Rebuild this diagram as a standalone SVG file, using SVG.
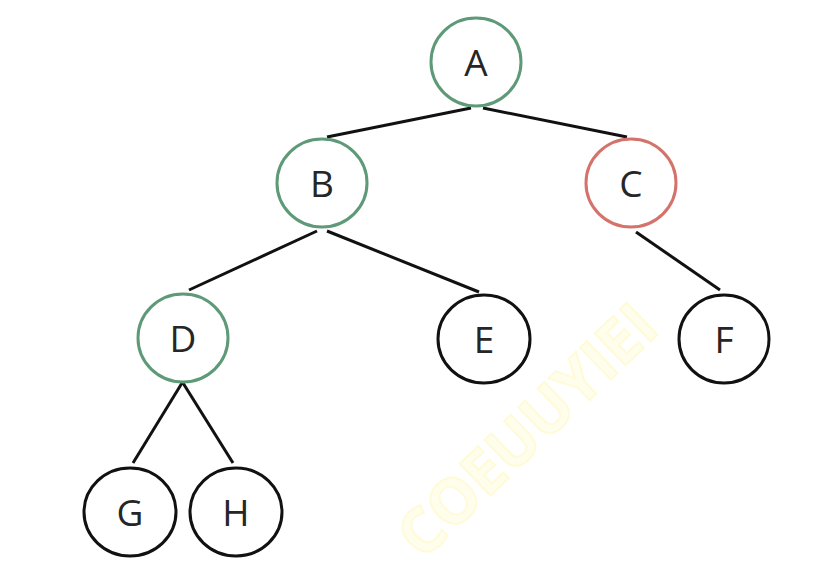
<svg xmlns="http://www.w3.org/2000/svg" width="834" height="576" viewBox="0 0 834 576">
<style>
.node ellipse{fill:#fff;stroke-width:3}
.g ellipse{stroke:#5e9a77}
.r ellipse{stroke:#d4736b}
.k ellipse{stroke:#111}
.node text{font-family:"Open Sans","Noto Sans",sans-serif;font-size:37px;fill:#262626;text-anchor:middle}
#edges line{stroke:#111;stroke-width:3;stroke-linecap:butt}
.wm{font-family:"Open Sans","Liberation Sans",sans-serif;font-size:62px;font-weight:bold;fill:#fffdec;stroke:#fffbd8;stroke-width:2;text-anchor:middle}
</style>
<rect width="834" height="576" fill="#fff"/>
<text class="wm" transform="translate(542,446) rotate(-44)">COEUUYIEI</text>
<g id="edges">
<line x1="471" y1="108" x2="327" y2="137"/>
<line x1="483" y1="108" x2="627" y2="137"/>
<line x1="317" y1="231" x2="189" y2="290"/>
<line x1="327" y1="231" x2="479" y2="292"/>
<line x1="636" y1="232" x2="720" y2="290"/>
<line x1="182" y1="383" x2="133" y2="463"/>
<line x1="183" y1="383" x2="233" y2="463"/>
</g>
<g id="A" class="node g"><ellipse cx="476" cy="62" rx="45" ry="44"/><text x="476" y="76">A</text></g>
<g id="B" class="node g"><ellipse cx="322" cy="183" rx="45" ry="44"/><text x="322" y="197">B</text></g>
<g id="C" class="node r"><ellipse cx="631" cy="183" rx="45" ry="44"/><text x="631" y="197">C</text></g>
<g id="D" class="node g"><ellipse cx="183" cy="338" rx="45" ry="44"/><text x="183" y="352">D</text></g>
<g id="E" class="node k"><ellipse cx="484" cy="339" rx="46" ry="44"/><text x="484" y="353">E</text></g>
<g id="F" class="node k"><ellipse cx="724" cy="339" rx="45" ry="44"/><text x="724" y="353">F</text></g>
<g id="G" class="node k"><ellipse cx="130" cy="512" rx="46" ry="44"/><text x="130" y="526">G</text></g>
<g id="H" class="node k"><ellipse cx="236" cy="512" rx="46" ry="44"/><text x="236" y="526">H</text></g>
</svg>
